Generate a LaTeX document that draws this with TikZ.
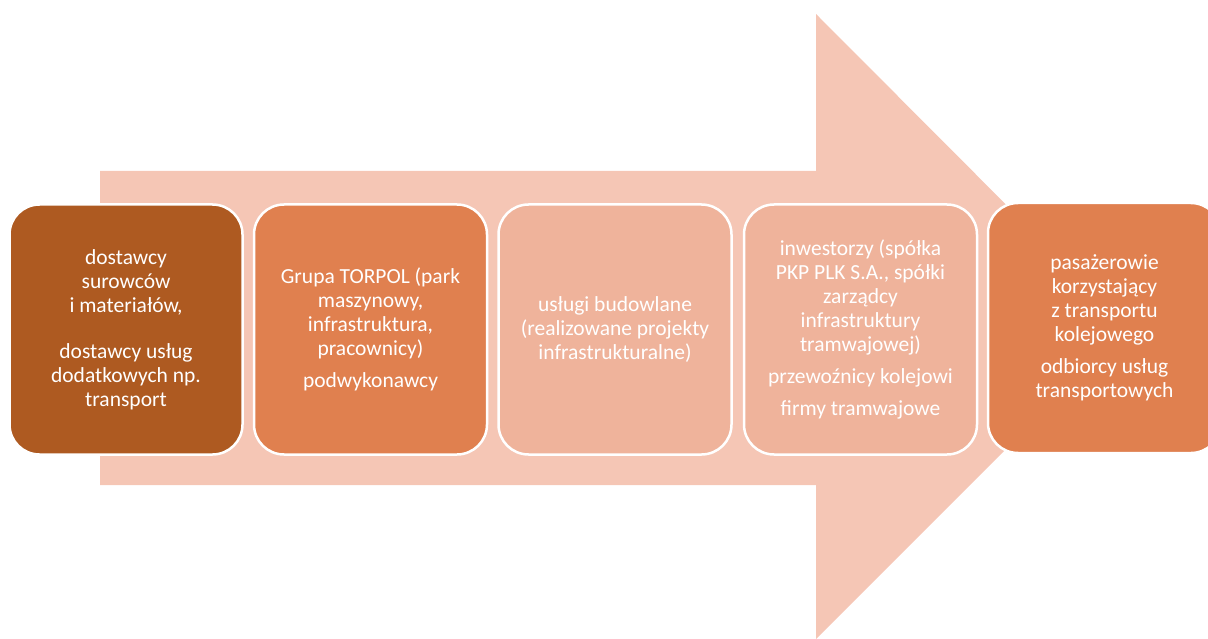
\documentclass[tikz,border=0pt]{standalone}
\usepackage{fontspec}
\setmainfont{Carlito}
\definecolor{arrowc}{HTML}{F5C6B5}
\definecolor{cdark}{HTML}{AE5A21}
\definecolor{cmid}{HTML}{E0804F}
\definecolor{clight}{HTML}{EFB39B}
\begin{document}
\begin{tikzpicture}[x=1pt,y=-1pt,
  box/.style={draw=white, line width=2.5pt, rounded corners=30pt,
    minimum width=233pt, minimum height=250pt, text=white, align=center,
    font=\fontsize{21.5}{24}\selectfont, inner sep=0pt}]
\useasboundingbox (0,0) rectangle (1208,639);
\clip (0,0) rectangle (1208,639);
\fill[arrowc] (100,171) -- (816,171) -- (816,14) -- (1128,327) -- (816,639) -- (816,485) -- (100,485) -- cycle;
\node[box, fill=cdark] (b1) at (126,329.5) {dostawcy\\surowców\\i materiałów,\\[22pt]dostawcy usług\\dodatkowych np.\\transport};
\node[box, fill=cmid] (b2) at (370.5,329.5) {Grupa TORPOL (park\\maszynowy,\\infrastruktura,\\pracownicy)\\[8pt]podwykonawcy};
\node[box, fill=clight] (b3) at (615,329.5) {usługi budowlane\\(realizowane projekty\\infrastrukturalne)};
\node[box, fill=clight] (b4) at (860.5,329.5) {inwestorzy (spółka\\PKP PLK S.A., spółki\\zarządcy\\infrastruktury\\tramwajowej)\\[8pt]przewoźnicy kolejowi\\[8pt]firmy tramwajowe};
\node[box, fill=cmid] (b5) at (1104.5,328) {pasażerowie\\korzystający\\z transportu\\kolejowego\\[8pt]odbiorcy usług\\transportowych};
\end{tikzpicture}
\end{document}
